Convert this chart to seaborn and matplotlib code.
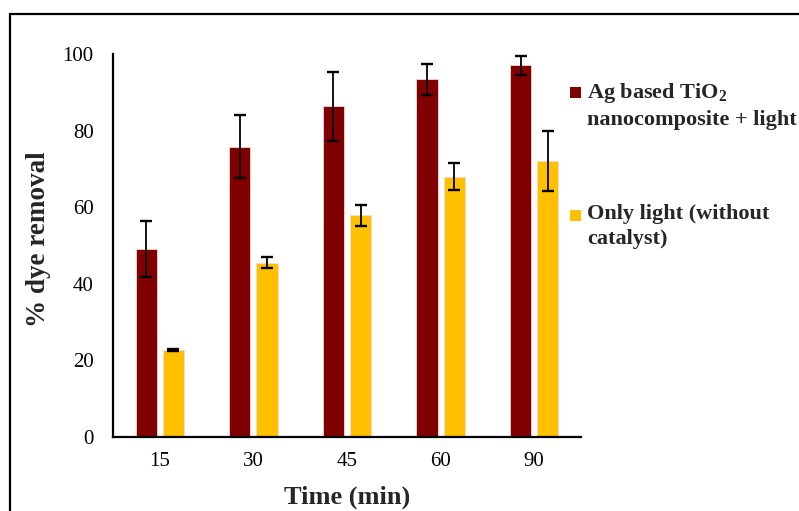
import numpy as np
import pandas as pd
import matplotlib
matplotlib.use("Agg")
import matplotlib.pyplot as plt
from matplotlib.patches import Rectangle
import seaborn as sns

times = ["15", "30", "45", "60", "90"]
series = ["Ag based TiO$_{\\mathbf{2}}$\nnanocomposite + light",
          "Only light (without\ncatalyst)"]
ag_values = [49.2, 75.8, 86.4, 93.4, 97.0]
ag_errors = [7.3, 8.2, 9.0, 4.0, 2.4]
light_values = [22.8, 45.5, 57.9, 68.0, 72.1]
light_errors = [0.3, 1.5, 2.8, 3.6, 7.8]
colors = ["#800000", "#FFC000"]
yticks = [0, 20, 40, 60, 80, 100]

sns.set_style("white")
plt.rcParams["font.family"] = ["Liberation Serif", "DejaVu Serif"]
plt.rcParams["mathtext.fontset"] = "custom"
plt.rcParams["mathtext.rm"] = "Liberation Serif"
plt.rcParams["mathtext.bf"] = "Liberation Serif:bold"

df = pd.DataFrame({
    "Time": times * 2,
    "Removal": ag_values + light_values,
    "Series": [series[0]] * 5 + [series[1]] * 5,
})

fig = plt.figure(figsize=(7.99, 5.11), dpi=100)
ax = fig.add_axes([113 / 799, 1 - 437 / 511, (581 - 113) / 799, (437 - 54) / 511])

sns.barplot(data=df, x="Time", y="Removal", hue="Series", order=times,
            hue_order=series, palette=colors, saturation=1, width=0.58, gap=0.22,
            errorbar=None, ax=ax, legend=False, edgecolor="#f0d8d8", linewidth=0.6)

# error bars at bar centers
errs = [ag_errors, light_errors]
vals = [ag_values, light_values]
bar_containers = list(ax.containers)
for k, cont in enumerate(bar_containers):
    xs = [p.get_x() + p.get_width() / 2 for p in cont.patches]
    ax.errorbar(xs, vals[k], yerr=errs[k], fmt="none", ecolor="black",
                elinewidth=1.3, capsize=4, capthick=1.7, zorder=5)

ax.set_ylim(0, 100)
ax.set_xlim(-0.5, 4.5)
ax.set_yticks(yticks)
ax.set_yticklabels([str(t) for t in yticks])
ax.tick_params(axis="both", length=0, labelsize=15, colors="black")
ax.tick_params(axis="y", pad=14)
ax.tick_params(axis="x", pad=11)
for s in ["top", "right"]:
    ax.spines[s].set_visible(False)
for s in ["left", "bottom"]:
    ax.spines[s].set_color("black")
    ax.spines[s].set_linewidth(1.6)

ax.set_xlabel("")
ax.set_ylabel("")
fig.text(347 / 799, 1 - 497 / 511, "Time (min)", fontsize=19, fontweight="bold",
         ha="center", va="center")
fig.text(39 / 799, 1 - 239 / 511, "% dye removal", fontsize=19.5, fontweight="bold",
         ha="center", va="center", rotation=90)

# legend drawn manually
leg_y = [93, 216]
for k in range(2):
    fig.patches.append(Rectangle((570 / 799, 1 - (leg_y[k] + 5.5) / 511), 11 / 799, 11 / 511,
                                 transform=fig.transFigure, facecolor=colors[k],
                                 edgecolor="none"))
    fig.text(587 / 799, 1 - (leg_y[k] - 12) / 511, series[k], fontsize=16,
             fontweight="bold", ha="left", va="top", linespacing=1.35)

# outer frame
fig.patches.append(Rectangle((10 / 799, -0.05), 1.2, 1 - 14 / 511 + 0.05,
                             transform=fig.transFigure, facecolor="none",
                             edgecolor="black", linewidth=1.6))

fig.savefig("out.png", dpi=100)
